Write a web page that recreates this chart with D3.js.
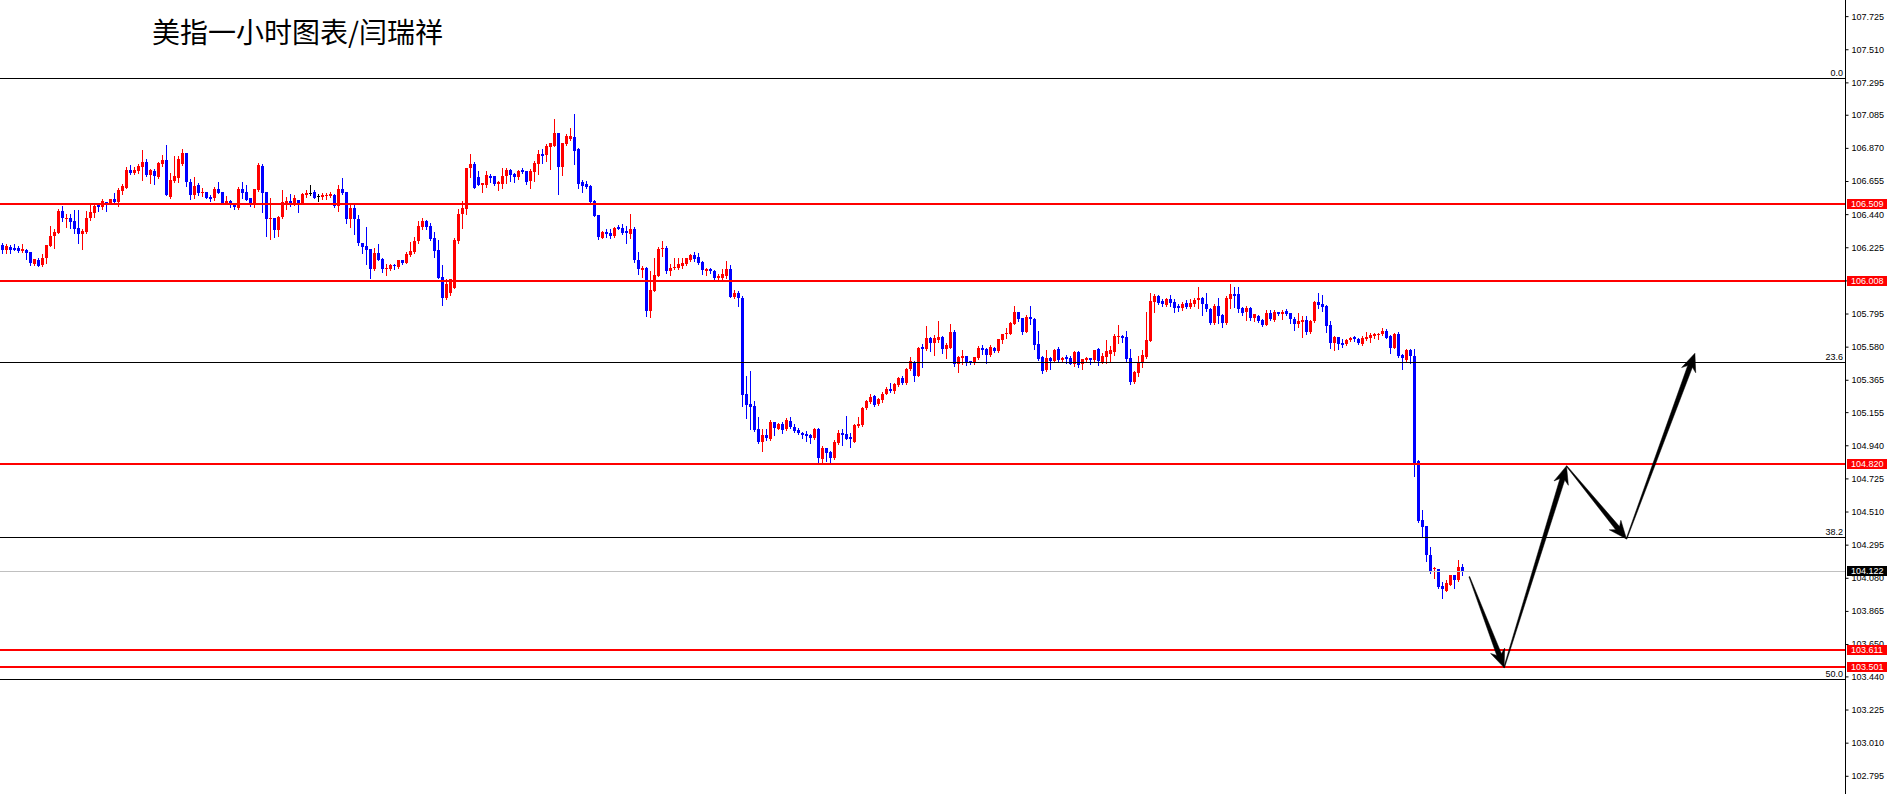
<!DOCTYPE html>
<html><head><meta charset="utf-8">
<script src="https://cdn.jsdelivr.net/npm/d3@7"></script>
<style>html,body{margin:0;padding:0;background:#fff;overflow:hidden}</style>
</head><body>
<svg id="chart" width="1887" height="794"></svg>
<script>
const opens = [
106.240,106.207,106.229,106.223,106.223,106.203,106.210,106.194,106.119,106.145,
106.110,106.153,106.236,106.296,106.320,106.461,106.413,106.417,106.396,106.350,
106.314,106.324,106.413,106.450,106.497,106.487,106.519,106.508,106.536,106.521,
106.591,106.612,106.725,106.710,106.720,106.746,106.779,106.694,106.720,106.681,
106.764,106.792,106.554,106.655,106.677,106.764,106.835,106.649,106.565,106.630,
106.580,106.584,106.554,106.543,106.606,106.584,106.508,106.526,106.515,106.482,
106.604,106.584,106.543,106.504,106.595,106.753,106.586,106.413,106.417,106.337,
106.422,106.508,106.526,106.513,106.532,106.508,106.565,106.575,106.586,106.556,
106.549,106.556,106.558,106.565,106.493,106.606,106.584,106.411,106.482,106.407,
106.255,106.233,106.214,106.086,106.186,106.151,106.084,106.086,106.110,106.097,
106.140,106.125,106.175,106.197,106.266,106.357,106.396,106.363,106.288,106.207,
106.032,105.898,105.930,105.963,106.266,106.439,106.476,106.738,106.768,106.681,
106.627,106.630,106.688,106.688,106.634,106.634,106.688,106.725,106.699,106.681,
106.725,106.720,106.655,106.714,106.764,106.829,106.824,106.876,106.883,106.965,
106.749,106.894,106.928,106.941,106.861,106.651,106.634,106.623,106.526,106.435,
106.288,106.324,106.316,106.298,106.357,106.352,106.331,106.314,106.344,106.140,
106.078,106.093,105.811,105.941,106.039,106.212,106.223,106.071,106.088,106.093,
106.104,106.114,106.140,106.175,106.162,106.132,106.071,106.086,106.071,106.028,
106.028,106.039,106.082,105.902,105.930,105.893,105.270,105.205,105.194,105.043,
104.958,105.006,104.982,105.090,105.047,105.075,105.043,105.097,105.060,105.036,
105.021,105.010,105.004,104.984,105.043,104.854,104.921,104.896,104.859,104.956,
105.021,105.015,104.993,104.963,105.064,105.069,105.184,105.223,105.259,105.205,
105.233,105.275,105.307,105.292,105.331,105.378,105.346,105.433,105.482,105.389,
105.578,105.562,105.638,105.606,105.621,105.642,105.562,105.573,105.677,105.465,
105.508,105.519,105.487,105.476,105.508,105.573,105.562,105.526,105.573,105.552,
105.621,105.660,105.664,105.729,105.805,105.768,105.675,105.772,105.762,105.595,
105.515,105.426,105.504,105.487,105.562,105.491,105.515,105.508,105.469,105.547,
105.465,105.491,105.504,105.491,105.562,105.482,105.513,105.530,105.545,105.642,
105.649,105.642,105.504,105.353,105.411,105.476,105.515,105.616,105.872,105.909,
105.876,105.850,105.887,105.870,105.844,105.828,105.865,105.837,105.854,105.880,
105.898,105.854,105.826,105.731,105.844,105.785,105.731,105.887,105.919,105.919,
105.833,105.807,105.833,105.768,105.779,105.751,105.720,105.796,105.753,105.807,
105.789,105.811,105.796,105.761,105.725,105.742,105.751,105.675,105.746,105.870,
105.854,105.844,105.720,105.606,105.644,105.606,105.595,105.621,105.642,105.627,
105.595,105.627,105.638,105.649,105.660,105.660,105.681,105.649,105.573,105.660,
105.525,105.493,105.558,105.519,104.837,104.454,104.415,104.227,104.140,104.134,
104.025,103.993,104.036,104.095,104.064,104.151
];
const highs = [
106.253,106.246,106.242,106.244,106.231,106.244,106.216,106.194,106.149,106.156,
106.179,106.240,106.363,106.342,106.472,106.493,106.439,106.439,106.467,106.467,
106.342,106.461,106.504,106.504,106.508,106.536,106.519,106.536,106.580,106.608,
106.634,106.749,106.759,106.749,106.764,106.857,106.801,106.731,106.731,106.781,
106.822,106.889,106.705,106.818,106.818,106.861,106.835,106.666,106.684,106.643,
106.608,106.584,106.565,106.617,106.649,106.584,106.558,106.532,106.515,106.617,
106.649,106.630,106.543,106.604,106.772,106.768,106.586,106.545,106.417,106.428,
106.597,106.552,106.569,106.562,106.532,106.580,106.595,106.630,106.595,106.569,
106.578,106.578,106.586,106.569,106.630,106.673,106.584,106.500,106.500,106.435,
106.255,106.357,106.214,106.223,106.244,106.158,106.114,106.114,106.119,106.140,
106.140,106.197,106.262,106.292,106.396,106.417,106.402,106.385,106.327,106.272,
106.110,106.017,106.017,106.288,106.472,106.526,106.742,106.833,106.779,106.720,
106.645,106.720,106.703,106.688,106.655,106.742,106.742,106.736,106.710,106.725,
106.742,106.720,106.731,106.785,106.855,106.861,106.894,106.904,107.060,106.965,
106.900,106.959,107.002,107.093,106.866,106.664,106.655,106.627,106.532,106.435,
106.331,106.342,106.346,106.357,106.368,106.374,106.363,106.439,106.357,106.197,
106.104,106.099,106.071,106.158,106.229,106.266,106.233,106.114,106.158,106.158,
106.158,106.158,106.179,106.197,106.190,106.136,106.093,106.093,106.078,106.054,
106.082,106.136,106.110,105.948,105.941,105.909,105.389,105.421,105.227,105.123,
105.043,105.043,105.103,105.090,105.086,105.090,105.118,105.123,105.075,105.053,
105.027,105.032,105.015,105.053,105.053,104.934,104.921,104.906,104.971,105.036,
105.043,105.129,105.021,105.075,105.123,105.188,105.231,105.270,105.264,105.244,
105.285,105.318,105.346,105.346,105.383,105.389,105.443,105.513,105.487,105.578,
105.595,105.714,105.642,105.653,105.746,105.649,105.606,105.725,105.686,105.519,
105.556,105.519,105.487,105.513,105.584,105.588,105.573,105.590,105.578,105.627,
105.664,105.703,105.740,105.844,105.805,105.768,105.783,105.844,105.764,105.681,
105.519,105.556,105.515,105.562,105.578,105.513,105.523,105.519,105.552,105.552,
105.502,105.515,105.504,105.556,105.569,105.541,105.623,105.584,105.664,105.720,
105.655,105.681,105.567,105.422,105.519,105.558,105.805,105.930,105.920,105.913,
105.887,105.894,105.913,105.887,105.855,105.872,105.880,105.887,105.898,105.967,
105.902,105.930,105.833,105.859,105.898,105.789,105.909,105.984,105.967,105.967,
105.837,105.844,105.837,105.794,105.783,105.757,105.816,105.816,105.816,105.807,
105.816,105.822,105.800,105.772,105.796,105.779,105.779,105.751,105.876,105.930,
105.915,105.850,105.746,105.649,105.644,105.627,105.631,105.642,105.649,105.638,
105.649,105.675,105.670,105.670,105.670,105.699,105.692,105.655,105.670,105.675,
105.534,105.562,105.567,105.562,104.844,104.523,104.419,104.281,104.151,104.140,
104.051,104.064,104.101,104.101,104.194,104.171
];
const lows = [
106.190,106.190,106.190,106.207,106.194,106.197,106.151,106.110,106.112,106.106,
106.106,106.125,106.236,106.220,106.320,106.396,106.357,106.352,106.320,106.255,
106.216,106.318,106.400,106.424,106.461,106.472,106.461,106.508,106.515,106.493,
106.569,106.608,106.699,106.703,106.710,106.662,106.690,106.640,106.634,106.677,
106.753,106.565,106.543,106.649,106.647,106.757,106.625,106.541,106.547,106.565,
106.558,106.547,106.526,106.530,106.575,106.504,106.504,106.489,106.472,106.472,
106.547,106.534,106.493,106.487,106.591,106.454,106.298,106.281,106.294,106.298,
106.413,106.472,106.493,106.497,106.456,106.508,106.552,106.562,106.547,106.526,
106.541,106.541,106.552,106.489,106.461,106.573,106.385,106.357,106.309,106.240,
106.190,106.114,106.028,106.078,106.143,106.065,106.047,106.080,106.082,106.093,
106.114,106.123,106.169,106.190,106.255,106.342,106.342,106.275,106.164,106.028,
105.850,105.891,105.915,105.963,106.255,106.352,106.439,106.684,106.608,106.627,
106.586,106.617,106.651,106.627,106.597,106.612,106.645,106.655,106.649,106.671,
106.710,106.638,106.612,106.655,106.703,106.775,106.785,106.731,106.883,106.573,
106.694,106.889,106.922,106.768,106.612,106.586,106.612,106.508,106.428,106.281,
106.283,106.292,106.288,106.294,106.342,106.309,106.255,106.283,106.132,106.054,
106.032,105.779,105.772,105.941,106.039,106.169,106.060,106.045,106.082,106.082,
106.093,106.110,106.136,106.136,106.114,106.054,106.045,106.060,106.013,106.006,
106.006,106.024,105.902,105.893,105.844,105.194,105.118,105.043,105.032,104.956,
104.902,104.971,104.973,105.006,105.043,105.021,105.036,105.049,105.025,105.010,
104.984,104.967,104.956,104.978,104.822,104.822,104.837,104.833,104.848,104.950,
104.941,104.978,104.930,104.963,105.060,105.065,105.173,105.216,105.192,105.201,
105.223,105.270,105.285,105.281,105.324,105.340,105.340,105.426,105.357,105.389,
105.448,105.556,105.552,105.526,105.612,105.541,105.508,105.569,105.454,105.417,
105.465,105.461,105.465,105.469,105.497,105.530,105.476,105.519,105.547,105.547,
105.606,105.638,105.660,105.725,105.746,105.664,105.675,105.729,105.567,105.493,
105.411,105.422,105.437,105.480,105.487,105.487,105.476,105.465,105.454,105.448,
105.437,105.487,105.469,105.487,105.461,105.476,105.476,105.487,105.523,105.606,
105.612,105.482,105.340,105.346,105.389,105.448,105.508,105.616,105.805,105.855,
105.844,105.844,105.844,105.807,105.811,105.816,105.833,105.833,105.844,105.833,
105.785,105.811,105.725,105.725,105.735,105.709,105.729,105.828,105.837,105.805,
105.783,105.751,105.751,105.746,105.742,105.714,105.718,105.751,105.746,105.785,
105.757,105.785,105.731,105.688,105.709,105.644,105.660,105.670,105.740,105.833,
105.811,105.675,105.573,105.556,105.567,105.577,105.590,105.616,105.616,105.595,
105.590,105.621,105.612,105.634,105.627,105.655,105.634,105.541,105.569,105.512,
105.432,105.486,105.476,104.740,104.443,104.344,104.188,104.112,104.080,104.015,
103.950,103.993,104.032,104.015,104.058,104.097
];
const closes = [
106.210,106.233,106.210,106.210,106.203,106.216,106.190,106.123,106.149,106.106,
106.158,106.240,106.301,106.327,106.461,106.413,106.417,106.391,106.344,106.314,
106.331,106.417,106.456,106.493,106.489,106.526,106.510,106.536,106.519,106.595,
106.623,106.727,106.710,106.727,106.753,106.779,106.694,106.725,106.688,106.775,
106.790,106.565,106.662,106.688,106.796,106.835,106.651,106.565,106.623,106.575,
106.584,106.547,106.541,106.601,106.575,106.515,106.526,106.497,106.487,106.606,
106.578,106.534,106.508,106.604,106.759,106.580,106.411,106.417,106.337,106.422,
106.519,106.526,106.515,106.543,106.510,106.573,106.580,106.575,106.547,106.556,
106.562,106.562,106.569,106.495,106.601,106.580,106.411,106.482,106.407,106.255,
106.229,106.205,106.086,106.186,106.143,106.086,106.088,106.110,106.104,106.140,
106.125,106.184,106.201,106.266,106.363,106.396,106.357,106.281,106.201,106.028,
105.898,105.989,106.017,106.270,106.439,106.482,106.742,106.768,106.612,106.627,
106.645,106.694,106.673,106.634,106.651,106.688,106.725,106.694,106.684,106.720,
106.714,106.649,106.720,106.775,106.829,106.818,106.883,106.900,106.969,106.746,
106.900,106.946,106.948,106.850,106.638,106.623,106.617,106.519,106.428,106.292,
106.324,106.309,106.298,106.352,106.346,106.320,106.320,106.344,106.140,106.082,
106.093,105.811,105.946,106.045,106.216,106.223,106.071,106.093,106.099,106.114,
106.125,106.153,106.173,106.151,106.125,106.075,106.086,106.071,106.028,106.039,
106.054,106.082,105.902,105.930,105.893,105.266,105.201,105.188,105.038,104.958,
105.006,104.989,105.090,105.053,105.075,105.038,105.101,105.058,105.032,105.017,
105.006,104.997,104.989,105.043,104.859,104.924,104.887,104.859,104.960,105.021,
105.004,104.982,104.982,105.071,105.080,105.184,105.227,105.255,105.201,105.242,
105.275,105.307,105.292,105.340,105.378,105.344,105.437,105.487,105.389,105.573,
105.567,105.638,105.606,105.634,105.642,105.567,105.588,105.677,105.469,105.515,
105.519,105.476,105.476,105.513,105.573,105.558,105.526,105.578,105.552,105.627,
105.660,105.671,105.736,105.805,105.757,105.675,105.772,105.762,105.590,105.497,
105.422,105.504,105.487,105.558,105.491,105.508,105.502,105.469,105.547,105.461,
105.497,105.508,105.495,105.556,105.487,105.519,105.552,105.556,105.649,105.649,
105.634,105.497,105.353,105.415,105.480,105.523,105.623,105.876,105.909,105.861,
105.855,105.887,105.861,105.833,105.829,105.859,105.839,105.865,105.880,105.898,
105.854,105.822,105.731,105.844,105.779,105.731,105.898,105.919,105.909,105.826,
105.796,105.833,105.768,105.789,105.746,105.720,105.796,105.757,105.807,105.789,
105.807,105.789,105.757,105.729,105.746,105.753,105.677,105.746,105.870,105.850,
105.839,105.714,105.606,105.644,105.595,105.590,105.623,105.634,105.627,105.606,
105.634,105.644,105.653,105.664,105.664,105.681,105.638,105.573,105.660,105.519,
105.504,105.558,105.519,104.826,104.448,104.409,104.227,104.119,104.145,104.021,
104.004,104.047,104.095,104.064,104.151,104.122
];

const redLevels = [106.509, 106.008, 104.820, 103.611, 103.501];
const fibLabels = ["0.0", "23.6", "38.2", "50.0"];
const fibValues = [107.322, 105.482, 104.343, 103.423];
const currentPrice = 104.122;
const tickValues = [107.725,107.510,107.295,107.085,106.870,106.655,106.440,106.225,106.010,
  105.795,105.580,105.365,105.155,104.940,104.725,104.510,104.295,104.080,103.865,103.650,
  103.440,103.225,103.010,102.795];
const arrowIndex = [366.7, 375.4, 391.0, 406.0, 423.1];
const arrowPrice = [104.087, 103.497, 104.806, 104.332, 105.537];
const titleText = "美指一小时图表/闫瑞祥";

const W = 1887, H = 794, axisX = 1845;
const svg = d3.select("#chart");
const x = d3.scaleLinear().domain([0, 460]).range([2.5, 1842.5]);
const y = d3.scaleLinear().domain([106.509, 103.501]).range([203.5, 667.0]);
const AX_FONT = "'Liberation Sans', Arial, sans-serif";

const candles = opens.map((o, i) => ({ i, o, h: highs[i], l: lows[i], c: closes[i] }));
const col = d => d.c > d.o ? "#ff0000" : (d.c < d.o ? "#0000ff" : "#000000");

// candles
const cg = svg.append("g");
cg.selectAll("line.wick").data(candles).join("line")
  .attr("class", "wick")
  .attr("x1", d => x(d.i)).attr("x2", d => x(d.i))
  .attr("y1", d => Math.round(y(Math.max(d.h, d.o, d.c))))
  .attr("y2", d => Math.round(y(Math.min(d.l, d.o, d.c))) + 1)
  .attr("stroke", col).attr("stroke-width", 1);
cg.selectAll("rect.body").data(candles).join("rect")
  .attr("class", "body")
  .attr("x", d => x(d.i) - 1.5)
  .attr("width", 3)
  .attr("y", d => Math.round(y(Math.max(d.o, d.c))))
  .attr("height", d => Math.max(1, Math.round(y(Math.min(d.o, d.c))) - Math.round(y(Math.max(d.o, d.c)))))
  .attr("fill", col);

// current price line (grey)
svg.append("line")
  .attr("x1", 0).attr("x2", axisX)
  .attr("y1", Math.round(y(currentPrice)) + 0.5).attr("y2", Math.round(y(currentPrice)) + 0.5)
  .attr("stroke", "#c0c0c0").attr("stroke-width", 1);

// fib lines
const fibData = fibValues.map((v, k) => ({ v, label: fibLabels[k] }));
svg.append("g").selectAll("line").data(fibData).join("line")
  .attr("x1", 0).attr("x2", axisX)
  .attr("y1", d => Math.round(y(d.v)) + 0.5).attr("y2", d => Math.round(y(d.v)) + 0.5)
  .attr("stroke", "#000").attr("stroke-width", 1);
svg.append("g").selectAll("text").data(fibData).join("text")
  .attr("x", axisX - 2).attr("y", d => Math.round(y(d.v)) - 2)
  .attr("text-anchor", "end")
  .attr("font-family", AX_FONT).attr("font-size", 9).attr("fill", "#000")
  .text(d => d.label);

// red horizontal lines
svg.append("g").selectAll("line").data(redLevels).join("line")
  .attr("x1", 0).attr("x2", axisX)
  .attr("y1", d => Math.round(y(d))).attr("y2", d => Math.round(y(d)))
  .attr("stroke", "#ff0000").attr("stroke-width", 2);

// arrows
function arrowPoly(x0, y0, x1, y1) {
  const dx = x1 - x0, dy = y1 - y0, L = Math.hypot(dx, dy);
  const ux = dx / L, uy = dy / L, nx = -uy, ny = ux;
  const hl = 18, hw = 7.5, sw = 2.5, s0 = 0.4;
  const bx = x1 - ux * hl, by = y1 - uy * hl;
  const jx = x1 - ux * (hl - 4), jy = y1 - uy * (hl - 4);
  return [[x0 + nx * s0, y0 + ny * s0], [jx + nx * sw, jy + ny * sw], [bx + nx * hw, by + ny * hw],
          [x1, y1], [bx - nx * hw, by - ny * hw], [jx - nx * sw, jy - ny * sw], [x0 - nx * s0, y0 - ny * s0]];
}
const arrowSegs = d3.range(arrowIndex.length - 1).map(k => arrowPoly(
  x(arrowIndex[k]), y(arrowPrice[k]), x(arrowIndex[k + 1]), y(arrowPrice[k + 1])));
svg.append("g").selectAll("polygon").data(arrowSegs).join("polygon")
  .attr("points", d => d.map(p => p.join(",")).join(" "))
  .attr("fill", "#000").attr("stroke", "#000").attr("stroke-width", 0.5);

// right axis
svg.append("rect").attr("x", axisX).attr("y", 0).attr("width", W - axisX).attr("height", H).attr("fill", "#fff");
const axis = d3.axisRight(y).tickValues(tickValues).tickSize(3).tickPadding(3).tickFormat(d3.format(".3f"));
const ag = svg.append("g").attr("transform", `translate(${axisX + 0.5},0)`).call(axis);
ag.select(".domain").remove();
ag.selectAll(".tick line").attr("stroke", "#000");
ag.selectAll(".tick text").attr("font-family", AX_FONT).attr("font-size", 9).attr("fill", "#000");
svg.append("line").attr("x1", axisX + 0.5).attr("x2", axisX + 0.5).attr("y1", 0).attr("y2", H)
  .attr("stroke", "#000").attr("stroke-width", 1);

// price labels
const priceLabels = redLevels.map(v => ({ v, bg: "#ff0000" })).concat([{ v: currentPrice, bg: "#000000" }]);
const lg = svg.append("g").selectAll("g").data(priceLabels).join("g")
  .attr("transform", d => `translate(${axisX + 2},${Math.round(y(d.v))})`);
lg.append("rect").attr("x", 0).attr("y", -5).attr("width", W - axisX - 2).attr("height", 10).attr("fill", d => d.bg);
lg.append("text").attr("x", 4).attr("y", 0).attr("dy", "0.34em")
  .attr("font-family", AX_FONT).attr("font-size", 9).attr("fill", "#fff")
  .text(d => d3.format(".3f")(d.v));

// title
svg.append("text").attr("x", 152).attr("y", 43)
  .attr("font-family", "'Noto Sans CJK SC', 'Noto Sans', sans-serif")
  .attr("font-size", 28).attr("fill", "#000")
  .text(titleText);
</script>
</body></html>
